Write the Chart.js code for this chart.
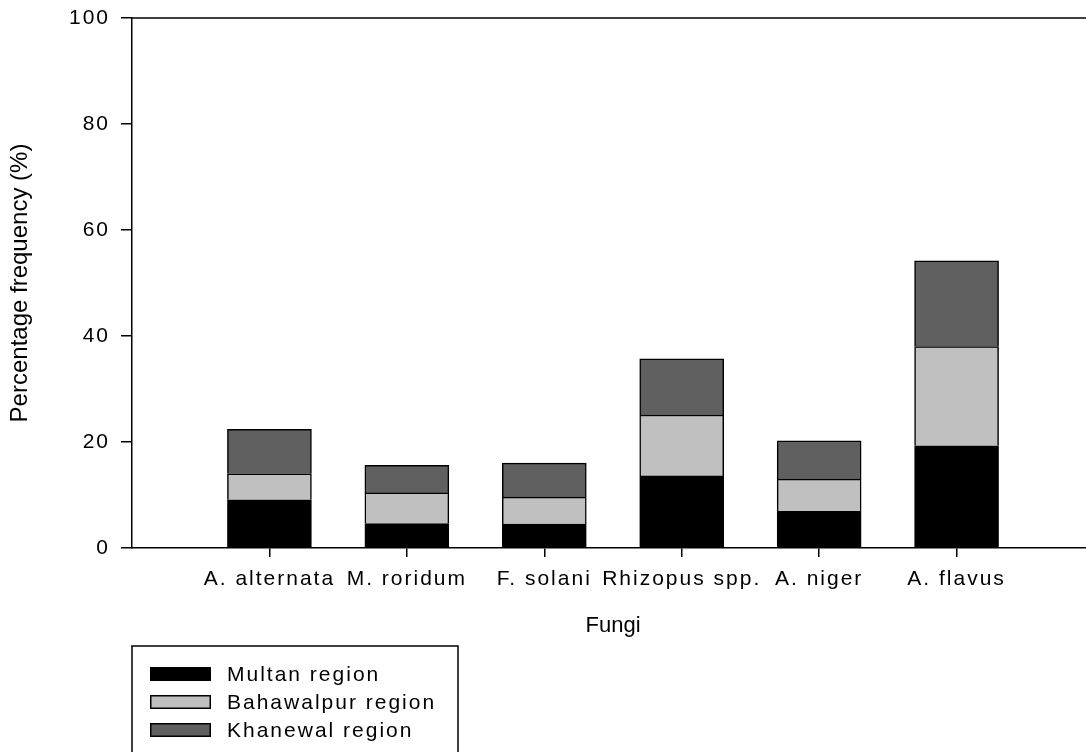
<!DOCTYPE html>
<html>
<head>
<meta charset="utf-8">
<script src="https://cdn.jsdelivr.net/npm/chart.js@4.4.1/dist/chart.umd.min.js"></script>
<style>
    html, body { margin: 0; padding: 0; background: #fff; overflow: hidden; }
    canvas { display: block; }
</style>
</head>
<body>
<canvas id="fungi-chart" width="1094" height="752"></canvas>
<script>
const fungi = ['A. alternata', 'M. roridum', 'F. solani', 'Rhizopus spp.', 'A. niger', 'A. flavus'];
const regions = ['Multan region', 'Bahawalpur region', 'Khanewal region'];
const multan = [9.1, 4.6, 4.5, 13.6, 6.9, 19.3];
const bahawalpur = [4.9, 5.8, 5.1, 11.5, 6.1, 18.7];
const khanewal = [8.4, 5.2, 6.4, 10.6, 7.2, 16.2];
const yTicks = [0, 20, 40, 60, 80, 100];

const FONT = '"Liberation Sans", Arial, Helvetica, sans-serif';

// SigmaPlot style: labels are spaced out, titles are not
const spacedLabels = {
    id: 'spacedLabels',
    afterDatasetsDraw(chart) {
        chart.ctx.letterSpacing = '2px';
    },
    afterDraw(chart) {
        chart.ctx.letterSpacing = '0px';
    }
};

const topLine = {
    id: 'topLine',
    afterDraw(chart) {
        const { ctx, chartArea } = chart;
        ctx.save();
        ctx.strokeStyle = '#000';
        ctx.lineWidth = 1.5;
        ctx.beginPath();
        ctx.moveTo(chartArea.left, chartArea.top);
        ctx.lineTo(chartArea.right, chartArea.top);
        ctx.stroke();
        ctx.restore();
    }
};

const boxLegend = {
    id: 'boxLegend',
    afterDraw(chart) {
        const ctx = chart.ctx;
        ctx.save();
        ctx.strokeStyle = '#000';
        ctx.lineWidth = 1.5;
        ctx.strokeRect(132, 646, 326, 130);
        ctx.font = '21px ' + FONT;
        ctx.letterSpacing = '2px';
        ctx.textBaseline = 'middle';
        chart.data.datasets.forEach((ds, i) => {
            const y = 674 + i * 28;
            ctx.fillStyle = ds.backgroundColor;
            ctx.fillRect(150, y - 7, 61, 14);
            ctx.strokeRect(150.75, y - 6.25, 59.5, 12.5);
            ctx.fillStyle = '#000';
            ctx.fillText(ds.label, 227, y + 1);
        });
        ctx.restore();
    }
};

function toPoints(values) {
    return values.map((v, i) => ({ x: i + 1, y: v }));
}

function noAutoPadding(s) {
    s.paddingTop = 0;
    s.paddingBottom = 0;
    s.paddingLeft = 0;
    s.paddingRight = 0;
}

const colors = ['#000000', '#c0c0c0', '#606060'];
const series = [multan, bahawalpur, khanewal];

new Chart(document.getElementById('fungi-chart').getContext('2d'), {
    type: 'bar',
    data: {
        datasets: series.map((values, i) => ({
            label: regions[i],
            data: toPoints(values),
            backgroundColor: colors[i],
            borderColor: '#000',
            borderWidth: 1.5,
            barThickness: 84
        }))
    },
    options: {
        responsive: false,
        animation: false,
        layout: { autoPadding: false, padding: { top: 18, left: 0, right: 0, bottom: 0 } },
        scales: {
            x: {
                type: 'linear',
                min: 0,
                max: 7,
                offset: false,
                stacked: true,
                afterFit: s => { s.height = 204; noAutoPadding(s); },
                afterBuildTicks: s => { s.ticks = fungi.map((f, i) => ({ value: i + 1 })); },
                border: { color: '#000', width: 1.5 },
                grid: { offset: false, drawOnChartArea: false, tickLength: 9, color: '#000', lineWidth: 1.5 },
                ticks: {
                    color: '#000',
                    padding: 10,
                    maxRotation: 0,
                    autoSkip: false,
                    z: 1,
                    font: { size: 21, family: FONT },
                    callback: value => fungi[value - 1]
                },
                title: {
                    display: true,
                    text: 'Fungi',
                    color: '#000',
                    font: { size: 22, family: FONT },
                    padding: { top: 0, bottom: 113 }
                }
            },
            y: {
                min: 0,
                max: 100,
                stacked: true,
                afterFit: s => { s.width = 132; noAutoPadding(s); },
                afterBuildTicks: s => { s.ticks = yTicks.map(v => ({ value: v })); },
                border: { color: '#000', width: 1.5 },
                grid: { drawOnChartArea: false, tickLength: 11, color: '#000', lineWidth: 1.5 },
                ticks: {
                    color: '#000',
                    padding: 11,
                    z: 1,
                    font: { size: 21, family: FONT }
                },
                title: {
                    display: true,
                    text: 'Percentage frequency (%)',
                    color: '#000',
                    font: { size: 24, family: FONT },
                    padding: { top: 6, bottom: 0 }
                }
            }
        },
        plugins: {
            legend: { display: false },
            tooltip: { enabled: false }
        }
    },
    plugins: [spacedLabels, topLine, boxLegend]
});
</script>
</body>
</html>
